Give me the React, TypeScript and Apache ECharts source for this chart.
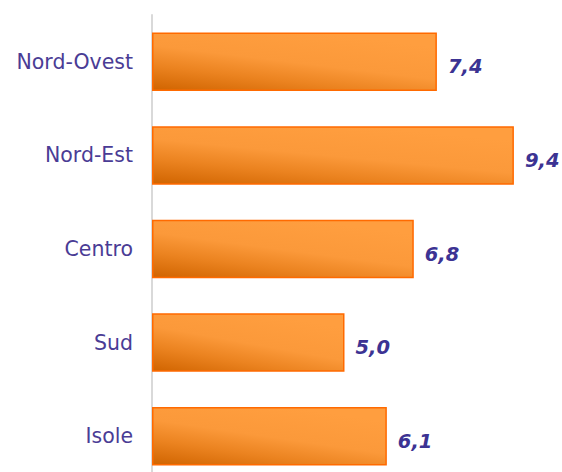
import React, { useEffect, useRef } from "react";
import * as echarts from "echarts";

const categories = ["Nord-Ovest", "Nord-Est", "Centro", "Sud", "Isole"];
const values = [7.4, 9.4, 6.8, 5.0, 6.1];

export default function App() {
  const ref = useRef<HTMLDivElement>(null);
  useEffect(() => {
    if (!ref.current) return;
    const chart = echarts.init(ref.current, null, { renderer: "svg" });
    const gradient = new echarts.graphic.LinearGradient(0, 1, 0.6, 0, [
      { offset: 0, color: "#D06400" },
      { offset: 0.32, color: "#EB8320" },
      { offset: 0.58, color: "#FB993A" },
      { offset: 1, color: "#FF9E3F" },
    ]);
    chart.setOption({
      animation: false,
      backgroundColor: "#FFFFFF",
      grid: { left: 152, width: 385, top: 15, bottom: 0, containLabel: false },
      xAxis: {
        type: "value",
        min: 0,
        max: 10,
        show: false,
      },
      yAxis: {
        type: "category",
        inverse: true,
        data: categories,
        axisLine: { show: true, lineStyle: { color: "#D9D9D9", width: 2 } },
        axisTick: { show: false },
        axisLabel: {
          color: "#4A3C95",
          fontFamily: "DejaVu Sans",
          fontSize: 20.5,
          margin: 19,
        },
        splitLine: { show: false },
      },
      series: [
        {
          type: "bar",
          data: values,
          barWidth: 58.5,
          itemStyle: {
            color: gradient,
            borderColor: "#FF6A00",
            borderWidth: 1.5,
          },
          label: {
            show: true,
            position: "right",
            distance: 11,
            offset: [0, 5],
            color: "#3C3393",
            fontFamily: "DejaVu Sans",
            fontSize: 19.5,
            fontWeight: "bold",
            fontStyle: "italic",
            formatter: (p: any) => Number(p.value).toFixed(1).replace(".", ","),
          },
        },
      ],
    });
    return () => chart.dispose();
  }, []);
  return (
    <div style={{ position: "fixed", left: 0, top: 0, width: 562, height: 472, overflow: "hidden" }}>
      <div ref={ref} style={{ width: 562, height: 482.5 }} />
    </div>
  );
}
